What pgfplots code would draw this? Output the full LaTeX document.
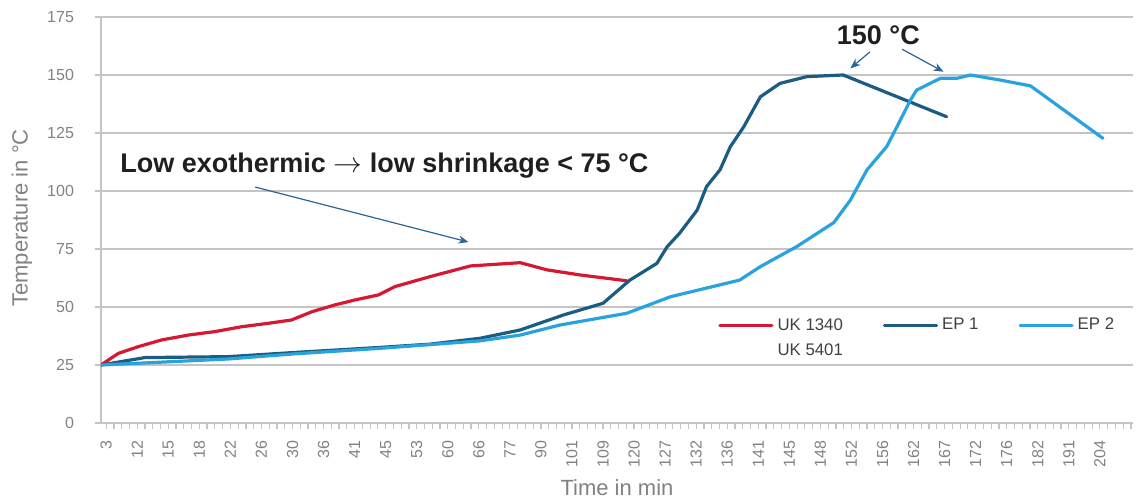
\documentclass[border=0pt]{standalone}
\usepackage{fontspec}
\setmainfont{Liberation Sans}
\usepackage{pgfplots}
\pgfplotsset{compat=1.18}
\usetikzlibrary{arrows.meta}
\definecolor{ukred}{RGB}{214,24,50}
\definecolor{epdark}{RGB}{27,92,128}
\definecolor{eplight}{RGB}{41,163,221}
\definecolor{arrowblue}{RGB}{43,100,150}
\definecolor{gridgray}{RGB}{196,196,196}
\definecolor{labelgray}{RGB}{130,130,130}
\begin{document}
\begin{tikzpicture}
\useasboundingbox (-50.5pt,-38pt) rectangle (517.5pt,211.5pt);
\begin{axis}[
  at={(0,0)}, anchor=south west,
  scale only axis, width=516pt, height=203pt,
  xmin=0, xmax=99.7, ymin=0, ymax=175,
  axis lines*=left,
  axis line style={draw=gridgray, line width=0.8pt},
  ymajorgrids, grid style={draw=gridgray, line width=0.9pt},
  ytick={0,25,...,175},
  xtick={0.5,3.5,...,96.5},
  xticklabels={3,12,15,18,22,26,30,36,41,45,53,60,66,77,90,101,109,120,127,132,136,141,145,148,152,156,162,167,172,176,182,191,204},
  minor xtick={0.5,1.25,...,99.5},
  tick align=outside,
  major tick length=3pt, minor tick length=3pt,
  tick style={draw=gridgray, line width=0.6pt},
  /pgf/number format/assume math mode=true,
  tick label style={font=\fontsize{8}{9.6}\selectfont, text=labelgray},
  yticklabel style={xshift=-7pt},
  xticklabel style={rotate=90, anchor=east, xshift=-2.5pt},
  xlabel={Time in min},
  ylabel={Temperature in °C},
  label style={font=\fontsize{11}{13}\selectfont, text=labelgray},
  xlabel style={at={(axis description cs:0.5,-0.158)}, anchor=center},
  ylabel style={at={(axis description cs:-0.0766,0.505)}, anchor=center, rotate=0},
  legend style={at={(axis cs:59.6,47.6)}, anchor=north west, draw=none, fill=none,
    inner sep=0pt, font=\fontsize{8.4}{10}\selectfont, text=black!75,
    /tikz/every even column/.append style={column sep=18pt}},
  legend columns=3,
  legend cell align=left,
  legend image code/.code={\draw[#1] (0pt,0pt) -- (26pt,0pt);},
  every axis plot/.append style={line width=1.6pt, line join=round, line cap=round},
]
\addplot[ukred] coordinates {
(0,25) (1.67,30.0) (3.6,32.9) (5.86,35.8) (8.43,37.9) (11.0,39.4) (13.6,41.5)
(16.2,43.0) (18.4,44.4) (20.4,48.0) (22.6,50.9) (24.5,53.0) (26.8,55.2) (28.4,58.8)
(31.8,63.1) (35.7,67.7) (40.5,69.1) (43.1,66.0) (46.3,63.8) (50.8,61.3)
};
\addlegendentry{\begin{tabular}[t]{@{}l@{}}UK 1340\\[2.5pt]UK 5401\end{tabular}}
\addplot[epdark] coordinates {
(0,25) (4.25,28.2) (12.3,28.6) (18.7,30.4) (27.0,32.6) (31.8,34.0) (36.6,36.5)
(40.5,40.1) (44.7,46.6) (48.5,51.6) (51.1,61.6) (53.7,68.8) (54.7,76.0) (55.9,81.8)
(57.6,91.8) (58.5,101.9) (59.8,109.1) (60.8,119.1) (62.1,127.7) (63.7,140.6)
(65.6,146.4) (68.2,149.3) (71.7,150) (81.7,132.0)
};
\addlegendentry{EP 1}
\addplot[eplight] coordinates {
(0,25) (12.3,27.6) (18.7,29.8) (27.0,32.2) (36.6,35.4) (40.5,37.9) (44.3,42.2)
(50.8,47.3) (55.0,54.4) (61.7,61.6) (63.7,67.4) (67.2,76.0) (70.8,86.4) (72.4,96.1)
(74.0,109.1) (75.9,119.1) (76.9,127.7) (78.2,139.2) (78.8,143.5) (81.1,148.6)
(82.7,148.6) (84.0,150) (86.9,147.8) (89.8,145.3) (96.8,122.7)
};
\addlegendentry{EP 2}
\node[anchor=west, inner sep=0pt, font=\bfseries\fontsize{13.5}{16}\selectfont, text=black!88] at (axis cs:1.84,111) {Low exothermic $\rightarrow$ low shrinkage < 75 °C};
\node[anchor=center, font=\bfseries\fontsize{13.5}{16}\selectfont, text=black!88] at (axis cs:75.1,167.2) {150 °C};
\draw[arrowblue, line width=0.6pt, -{Stealth[length=5pt,width=4pt]}] (axis cs:14.9,101.7) -- (axis cs:35.5,78.0);
\draw[arrowblue, line width=0.6pt, -{Stealth[length=5pt,width=4pt]}] (axis cs:74.3,160.0) -- (axis cs:72.4,152.9);
\draw[arrowblue, line width=0.6pt, -{Stealth[length=5pt,width=4pt]}] (axis cs:77.4,161.1) -- (axis cs:81.4,151.4);
\node[font=\fontsize{5}{6}\selectfont, text=black!35] at (axis description cs:0.0135,-0.135) {c};
\end{axis}
\end{tikzpicture}
\end{document}
